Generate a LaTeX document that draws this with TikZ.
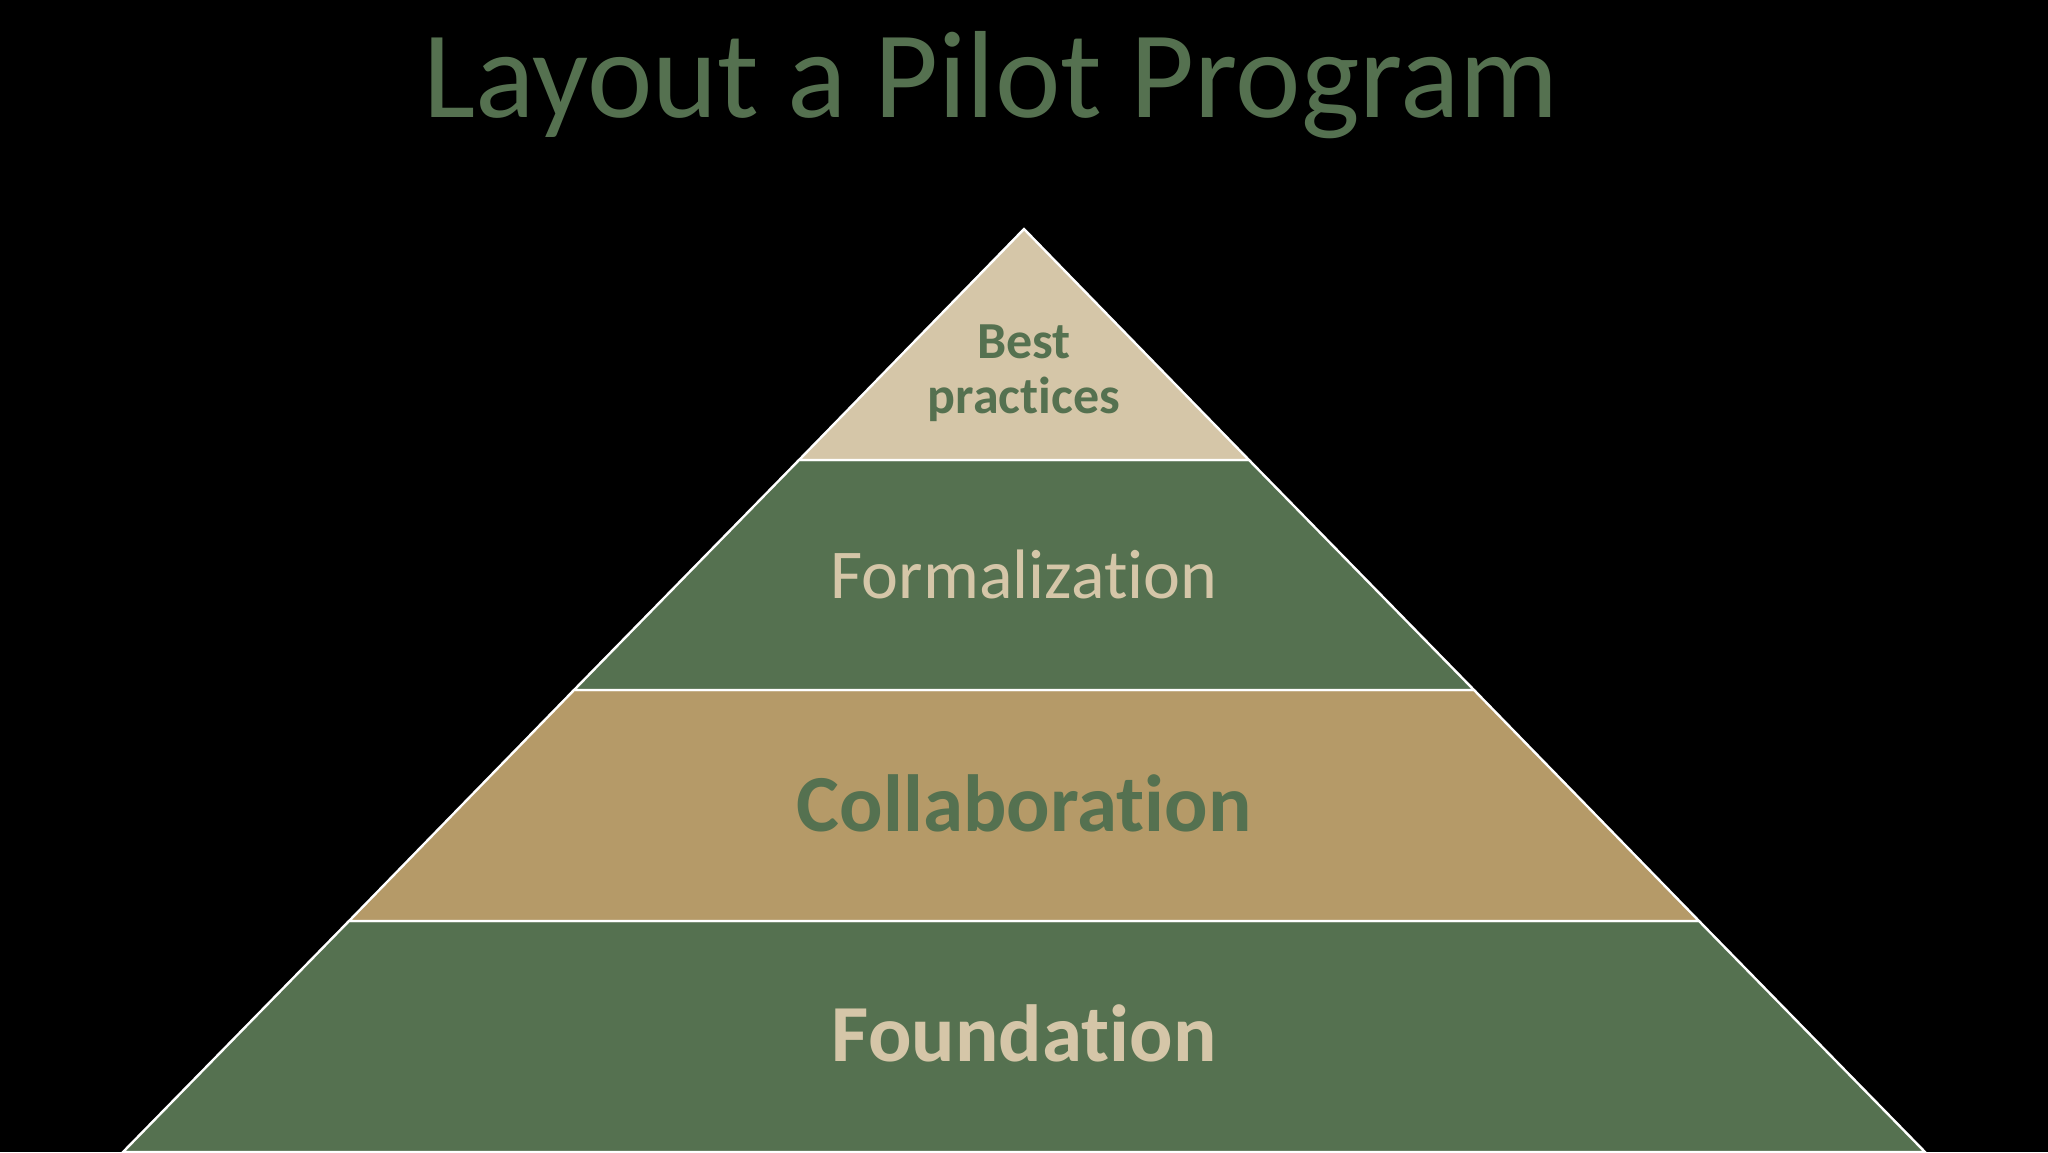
\documentclass[tikz,border=0pt]{standalone}
\usepackage{fontspec}
\setmainfont{Carlito}[Ligatures=NoCommon]
\definecolor{pgreen}{HTML}{557150}
\definecolor{ptan}{HTML}{B59A68}
\definecolor{plight}{HTML}{D5C6A8}
\tikzset{
  band/.style={draw=white, line width=1.2pt, line join=miter},
  lbl/.style={anchor=base, inner sep=0pt, align=center},
}
\begin{document}
\begin{tikzpicture}[x=0.5pt, y=-0.5pt]
\fill[black] (0,0) rectangle (2048,1152);
\useasboundingbox (0,0) rectangle (2048,1152);
% coordinates
\coordinate (apex) at (1024,229);
\coordinate (l1) at (799,460);  \coordinate (r1) at (1249,460);
\coordinate (l2) at (574,690);  \coordinate (r2) at (1474,690);
\coordinate (l3) at (349,921);  \coordinate (r3) at (1699,921);
\coordinate (l4) at (123,1152); \coordinate (r4) at (1925,1152);
% bands
\filldraw[band, fill=pgreen] (l3) -- (r3) -- (r4) -- (l4) -- cycle;
\filldraw[band, fill=ptan] (l2) -- (r2) -- (r3) -- (l3) -- cycle;
\filldraw[band, fill=pgreen] (l1) -- (r1) -- (r2) -- (l2) -- cycle;
\filldraw[band, fill=plight] (apex) -- (r1) -- (l1) -- cycle;
% title
\node[lbl, text=pgreen, font=\fontsize{62}{66}\selectfont] (title) at (991,117) {Layout a Pilot Program};
% labels
\node[lbl, text=pgreen, font=\bfseries\fontsize{26}{27.5}\selectfont] (best) at (1024,413) {Best\\practices};
\node[lbl, text=plight, font=\fontsize{35}{40}\selectfont] (form) at (1024,598) {Formalization};
\node[lbl, text=pgreen, font=\bfseries\fontsize{40.5}{46}\selectfont] (coll) at (1024,831) {Collaboration};
\node[lbl, text=plight, font=\bfseries\fontsize{40.5}{46}\selectfont] (found) at (1024,1061) {Foundation};
\end{tikzpicture}
\end{document}
